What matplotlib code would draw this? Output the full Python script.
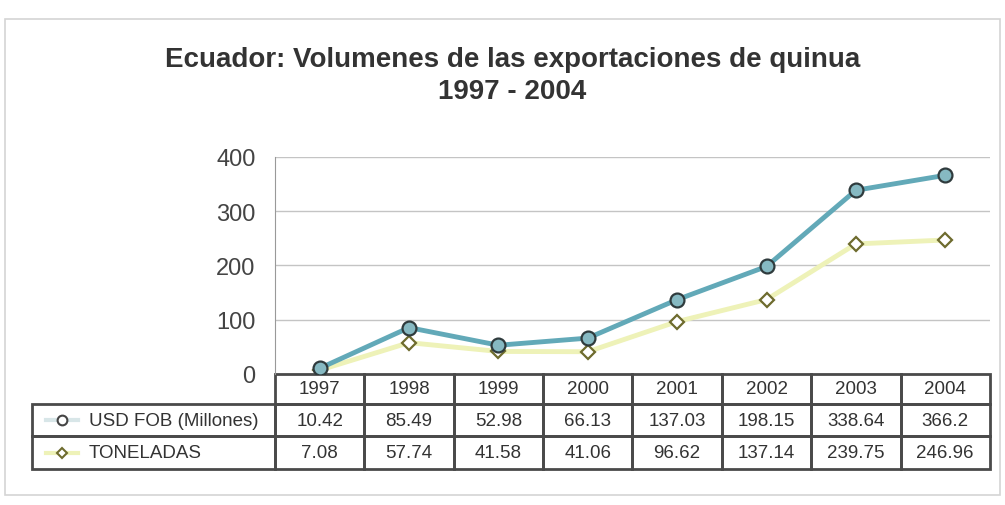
import matplotlib.pyplot as plt
from matplotlib.patches import Rectangle
from matplotlib.lines import Line2D
import matplotlib.transforms as mtransforms

plt.rcParams['font.family'] = ['Liberation Sans', 'DejaVu Sans']

years = ["1997", "1998", "1999", "2000", "2001", "2002", "2003", "2004"]
usd_fob = [10.42, 85.49, 52.98, 66.13, 137.03, 198.15, 338.64, 366.2]
toneladas = [7.08, 57.74, 41.58, 41.06, 96.62, 137.14, 239.75, 246.96]
series_names = ["USD FOB (Millones)", "TONELADAS"]

teal = '#62a9b8'
teal_face = '#86b9c2'
pale = '#eef2b8'
olive = '#6e6b2e'
border = '#4a4a4a'

fig = plt.figure(figsize=(10.05, 5.06), dpi=100)
ax = fig.add_axes([0.2736, 0.2589, 0.7114, 0.4289])

x = list(range(len(years)))
ax.plot(x, toneladas, color=pale, lw=3.5, marker='D', ms=7,
        mfc='white', mec=olive, mew=1.6, zorder=3)
ax.plot(x, usd_fob, color=teal, lw=3.5, marker='o', ms=10,
        mfc=teal_face, mec='#2f3b3d', mew=1.6, zorder=4)

ax.set_xlim(-0.5, len(years) - 0.5)
ax.set_ylim(0, 400)
ax.set_yticks([0, 100, 200, 300, 400])
ax.tick_params(axis='y', labelsize=17, labelcolor='#444444', length=0, pad=14)
ax.set_xticks([])
ax.grid(axis='y', color='#c4c4c4', lw=1)
ax.set_axisbelow(True)
for s in ['top', 'right', 'bottom']:
    ax.spines[s].set_visible(False)
ax.spines['left'].set_color('#999999')

fig.text(0.51, 0.882, "Ecuador: Volumenes de las exportaciones de quinua",
         ha='center', va='center', fontsize=20, fontweight='bold', color='#333333')
fig.text(0.51, 0.818, "1997 - 2004", ha='center', va='center',
         fontsize=20, fontweight='bold', color='#333333')

# data table under the plot
tr = mtransforms.blended_transform_factory(ax.transData, ax.transAxes)
row_h = [0.138, 0.148, 0.152]
tops = [0.0, -row_h[0], -row_h[0] - row_h[1]]
rows = [years,
        [f"{v:g}" for v in usd_fob],
        [f"{v:g}" for v in toneladas]]
for r in range(3):
    y0 = tops[r] - row_h[r]
    for i in x:
        ax.add_patch(Rectangle((i - 0.5, y0), 1, row_h[r], transform=tr,
                               fill=False, ec=border, lw=2, clip_on=False))
        ax.text(i, y0 + row_h[r] / 2, rows[r][i], transform=tr, ha='center',
                va='center', fontsize=13.5, color='#333333', clip_on=False)

# legend column
lab_left = -0.34
for r, name in enumerate(series_names):
    rr = r + 1
    y0 = tops[rr] - row_h[rr]
    ax.add_patch(Rectangle((lab_left, y0), -lab_left, row_h[rr],
                           transform=ax.transAxes, fill=False, ec=border,
                           lw=2, clip_on=False))
    yc = y0 + row_h[rr] / 2
    if r == 0:
        ln = Line2D([lab_left + 0.02, lab_left + 0.065], [yc, yc], color='#d8e6e8',
                    lw=3, transform=ax.transAxes)
        mk = Line2D([lab_left + 0.042], [yc], marker='o', ms=7, mfc='white',
                    mec='#444444', mew=1.5, transform=ax.transAxes)
    else:
        ln = Line2D([lab_left + 0.02, lab_left + 0.065], [yc, yc], color=pale,
                    lw=3, transform=ax.transAxes)
        mk = Line2D([lab_left + 0.042], [yc], marker='D', ms=5.5, mfc='white',
                    mec=olive, mew=1.5, transform=ax.transAxes)
    for art in (ln, mk):
        art.set_clip_on(False)
        ax.add_line(art)
    ax.text(lab_left + 0.08, yc, name, transform=ax.transAxes, ha='left',
            va='center', fontsize=13.5, color='#333333', clip_on=False)

# faint outer frame of the chart area
fig.patches.append(Rectangle((0.005, 0.02), 0.99, 0.94, transform=fig.transFigure,
                             fill=False, ec='#d4d4d4', lw=1.2))

fig.savefig('out.png', dpi=100)
